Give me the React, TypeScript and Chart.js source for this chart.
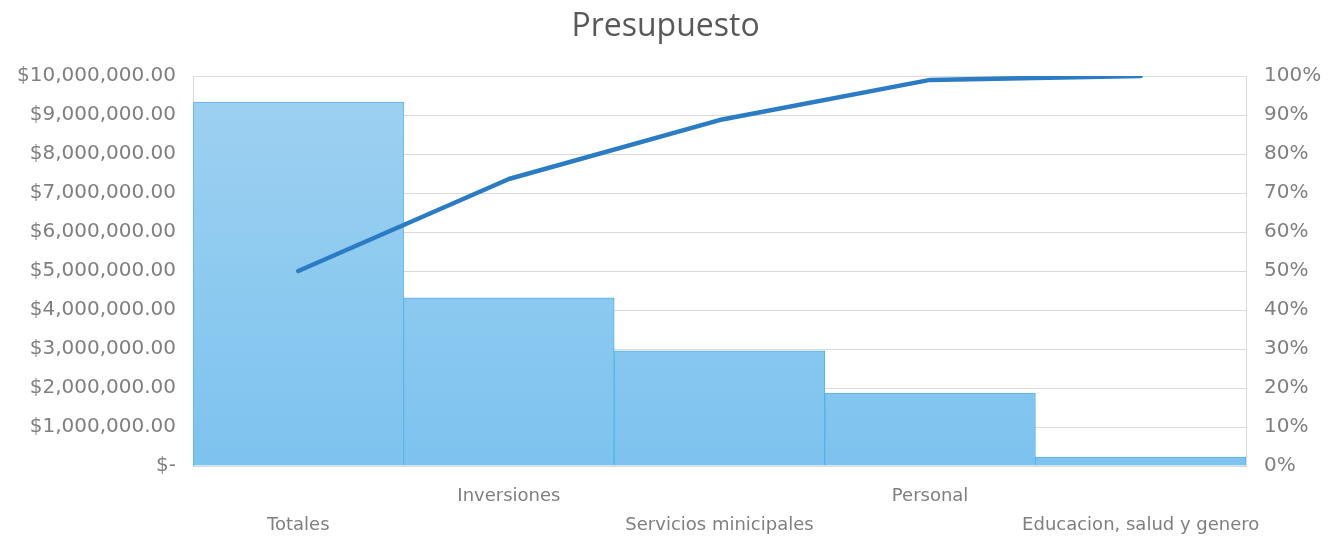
import React, { useEffect, useRef } from "react";
import { Chart, registerables } from "chart.js";

Chart.register(...registerables);

const categories = ["Totales", "Inversiones", "Servicios minicipales", "Personal", "Educacion, salud y genero"];
const presupuesto = [9330000, 4310000, 2950000, 1870000, 230000];
const acumulado = [50, 73.6, 88.7, 99, 100];

const FONT = "'DejaVu Sans', sans-serif";

function money(v: number): string {
  if (v === 0) return "$-";
  return "$" + v.toLocaleString("en-US", { minimumFractionDigits: 2, maximumFractionDigits: 2 });
}

export default function App() {
  const ref = useRef<HTMLCanvasElement | null>(null);

  useEffect(() => {
    document.body.style.margin = "0";
    const canvas = ref.current;
    if (!canvas) return;
    const chart = new Chart(canvas, {
      data: {
        labels: categories,
        datasets: [
          {
            type: "line",
            label: "Acumulado",
            data: acumulado,
            yAxisID: "y1",
            borderColor: "#2b7cc3",
            borderWidth: 4.5,
            borderCapStyle: "round",
            borderJoinStyle: "round",
            pointRadius: 0,
            tension: 0,
            order: 0,
          },
          {
            type: "bar",
            label: "Presupuesto",
            data: presupuesto,
            yAxisID: "y",
            barPercentage: 1,
            categoryPercentage: 1,
            borderColor: "#55b3e6",
            borderWidth: 1,
            order: 1,
            backgroundColor: (ctx: any) => {
              const area = ctx.chart.chartArea;
              if (!area) return "#86c8f0";
              const g = ctx.chart.ctx.createLinearGradient(0, area.top, 0, area.bottom);
              g.addColorStop(0, "#9fd1f1");
              g.addColorStop(1, "#7dc3ef");
              return g;
            },
          },
        ],
      } as any,
      options: {
        animation: false,
        responsive: false,
        layout: { padding: { left: 0, right: 0, top: 0, bottom: 0 } },
        plugins: {
          legend: { display: false },
          tooltip: { enabled: false },
          title: {
            display: true,
            text: "Presupuesto",
            color: "#595959",
            font: { family: "'Open Sans', sans-serif", size: 32, weight: "normal", lineHeight: 1.2 },
            padding: { top: 8, bottom: 29.6 },
          },
        },
        scales: {
          x: {
            offset: true,
            grid: { display: false, drawTicks: false },
            border: { display: false },
            afterFit: (s: any) => { s.height = 71; },
            ticks: {
              autoSkip: false,
              maxRotation: 0,
              minRotation: 0,
              padding: 16,
              color: "#7f7f7f",
              font: { family: FONT, size: 18, lineHeight: 1.6 },
              callback: (_v: any, i: number) => (i % 2 === 0 ? ["", categories[i]] : [categories[i], ""]),
            },
          },
          y: {
            position: "left",
            min: 0,
            max: 10000000,
            afterFit: (s: any) => { s.width = 193; },
            grid: { color: "#d9d9d9", lineWidth: 1, drawTicks: false },
            border: { display: true, color: "#d9d9d9" },
            ticks: {
              stepSize: 1000000,
              padding: 17,
              color: "#7f7f7f",
              font: { family: FONT, size: 20 },
              callback: (v: any) => money(Number(v)),
            },
          },
          y1: {
            position: "right",
            min: 0,
            max: 100,
            afterFit: (s: any) => { s.width = 85; },
            grid: { display: false, drawTicks: false },
            border: { display: true, color: "#d9d9d9" },
            ticks: {
              stepSize: 10,
              padding: 18,
              color: "#7f7f7f",
              font: { family: FONT, size: 20 },
              callback: (v: any) => v + "%",
            },
          },
        },
      } as any,
    });
    return () => chart.destroy();
  }, []);

  return (
    <div style={{ position: "fixed", left: 0, top: 0, width: 1331, height: 537, background: "#fff" }}>
      <canvas ref={ref} width={1331} height={537} style={{ width: 1331, height: 537 }} />
    </div>
  );
}
